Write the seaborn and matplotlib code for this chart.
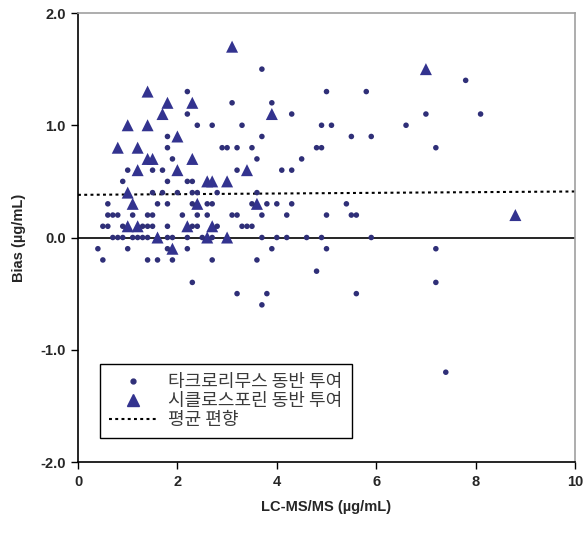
import numpy as np
import pandas as pd
import matplotlib
matplotlib.use("Agg")
import matplotlib.pyplot as plt
from matplotlib.lines import Line2D
import seaborn as sns

# tacrolimus co-administration (dots)
tac_x = [3.7, 7.8,
         2.2, 5.0, 5.8,
         3.1, 3.9,
         2.2, 4.3, 7.0, 8.1,
         2.4, 2.7, 3.3, 4.9, 5.1, 6.6,
         1.8, 3.7, 5.5, 5.9,
         1.8, 2.9, 3.0, 3.2, 3.5, 4.8, 4.9, 7.2,
         1.9, 3.6, 4.5,
         1.0, 1.5, 1.7, 3.2, 4.1, 4.3,
         0.9, 1.8, 2.2, 2.3,
         1.5, 1.7, 2.0, 2.3, 2.4, 2.8, 3.6,
         0.6, 1.6, 1.8, 2.3, 2.6, 2.7, 3.5, 3.8, 4.0, 4.3, 5.4,
         0.6, 0.7, 0.8, 1.1, 1.4, 1.5, 2.1, 2.4, 2.6, 3.1, 3.2, 3.7, 4.2, 5.0, 5.5, 5.6,
         0.5, 0.6, 0.9, 1.3, 1.4, 1.5, 1.8, 2.3, 2.4, 2.8, 3.3, 3.4, 3.5,
         0.7, 0.8, 0.9, 1.1, 1.2, 1.3, 1.4, 1.8, 1.9, 2.2, 2.5, 2.7, 3.7, 4.0, 4.2, 4.6, 4.9, 5.9,
         0.4, 1.0, 1.8, 2.2, 3.9, 5.0, 7.2,
         0.5, 1.4, 1.6, 1.9, 2.7, 3.6,
         4.8,
         2.3, 7.2,
         3.2, 3.8, 5.6,
         3.7,
         7.4]
tac_y = [1.5, 1.4,
         1.3, 1.3, 1.3,
         1.2, 1.2,
         1.1, 1.1, 1.1, 1.1,
         1.0, 1.0, 1.0, 1.0, 1.0, 1.0,
         0.9, 0.9, 0.9, 0.9,
         0.8, 0.8, 0.8, 0.8, 0.8, 0.8, 0.8, 0.8,
         0.7, 0.7, 0.7,
         0.6, 0.6, 0.6, 0.6, 0.6, 0.6,
         0.5, 0.5, 0.5, 0.5,
         0.4, 0.4, 0.4, 0.4, 0.4, 0.4, 0.4,
         0.3, 0.3, 0.3, 0.3, 0.3, 0.3, 0.3, 0.3, 0.3, 0.3, 0.3,
         0.2, 0.2, 0.2, 0.2, 0.2, 0.2, 0.2, 0.2, 0.2, 0.2, 0.2, 0.2, 0.2, 0.2, 0.2, 0.2,
         0.1, 0.1, 0.1, 0.1, 0.1, 0.1, 0.1, 0.1, 0.1, 0.1, 0.1, 0.1, 0.1,
         0.0, 0.0, 0.0, 0.0, 0.0, 0.0, 0.0, 0.0, 0.0, 0.0, 0.0, 0.0, 0.0, 0.0, 0.0, 0.0, 0.0, 0.0,
         -0.1, -0.1, -0.1, -0.1, -0.1, -0.1, -0.1,
         -0.2, -0.2, -0.2, -0.2, -0.2, -0.2,
         -0.3,
         -0.4, -0.4,
         -0.5, -0.5, -0.5,
         -0.6,
         -1.2]

# cyclosporine co-administration (triangles)
cyc_x = [3.1, 1.4, 1.8, 2.3, 1.7, 1.0, 1.4, 2.0, 0.8, 1.2, 1.4, 1.5, 2.3,
         1.2, 2.0, 2.6, 2.7, 3.0, 1.0, 1.1, 2.4, 1.0, 1.2, 2.2, 2.7,
         1.6, 2.6, 3.0, 1.9, 3.9, 3.4, 3.6, 7.0, 8.8]
cyc_y = [1.7, 1.3, 1.2, 1.2, 1.1, 1.0, 1.0, 0.9, 0.8, 0.8, 0.7, 0.7, 0.7,
         0.6, 0.6, 0.5, 0.5, 0.5, 0.4, 0.3, 0.3, 0.1, 0.1, 0.1, 0.1,
         0.0, 0.0, 0.0, -0.1, 1.1, 0.6, 0.3, 1.5, 0.2]

# mean bias line
mean_x = [0, 10]
mean_y = [0.38, 0.41]

labels = ["타크로리무스 동반 투여", "시클로스포린 동반 투여", "평균 편향"]

sns.set_style("white")
plt.rcParams['font.family'] = ['Noto Sans CJK KR', 'DejaVu Sans']

tac = pd.DataFrame({"x": tac_x, "y": tac_y})
cyc = pd.DataFrame({"x": cyc_x, "y": cyc_y})

fig = plt.figure(figsize=(5.83, 5.33), dpi=100)
ax = fig.add_axes([0.1338, 0.1332, 0.8525, 0.8424])

dot_c = "#2F2F78"
tri_c = "#33338F"
dots = (0, (1.4, 1.6))

ax.axhline(0, color="black", lw=1.2, zorder=1)
ax.plot(mean_x, mean_y, color="black", lw=1.5, linestyle=dots, zorder=1)
sns.scatterplot(data=tac, x="x", y="y", ax=ax, marker="o", s=16, color=dot_c,
                edgecolor="none", zorder=3)
sns.scatterplot(data=cyc, x="x", y="y", ax=ax, marker="^", s=75, color=tri_c,
                edgecolor="none", zorder=2)

ax.set_xlim(0, 10)
ax.set_ylim(-2, 2)
ax.set_xticks([0, 2, 4, 6, 8, 10])
ax.set_yticks([-2, -1, 0, 1, 2])
ax.set_yticklabels(["-2.0", "-1.0", "0.0", "1.0", "2.0"])
ax.tick_params(axis="both", direction="out", length=5, width=1, color="black",
               labelsize=10.5, pad=4, left=True, bottom=True)
for t in ax.get_xticklabels() + ax.get_yticklabels():
    t.set_fontweight("bold")
    t.set_family(["Liberation Sans", "DejaVu Sans"])

ax.set_xlabel("LC-MS/MS (µg/mL)", fontsize=10.5, fontweight="bold",
              family=["Liberation Sans", "DejaVu Sans"], labelpad=8)
ax.set_ylabel("Bias (µg/mL)", fontsize=10.5, fontweight="bold",
              family=["Liberation Sans", "DejaVu Sans"], labelpad=10)

for side in ["top", "right"]:
    ax.spines[side].set_color("#A0A0A0")
    ax.spines[side].set_linewidth(1.2)
for side in ["left", "bottom"]:
    ax.spines[side].set_color("black")
    ax.spines[side].set_linewidth(1.2)

handles = [
    Line2D([], [], marker="o", ls="none", color=dot_c, markersize=3.5),
    Line2D([], [], marker="^", ls="none", color=tri_c, markersize=8.5),
    Line2D([], [], color="black", lw=1.5, ls=dots),
]
leg = ax.legend(handles, labels, loc="lower left", bbox_to_anchor=(0.044, 0.053),
                frameon=True, fancybox=False, edgecolor="black", framealpha=1,
                fontsize=13, handlelength=2.7, handletextpad=0.6,
                labelspacing=0.05, borderpad=0.5, borderaxespad=0)
leg.get_frame().set_linewidth(1.0)
for t in leg.get_texts():
    t.set_color("#3A3A3A")
    t.set_family(["Noto Sans CJK KR", "DejaVu Sans"])

fig.savefig("out.png", dpi=100)
